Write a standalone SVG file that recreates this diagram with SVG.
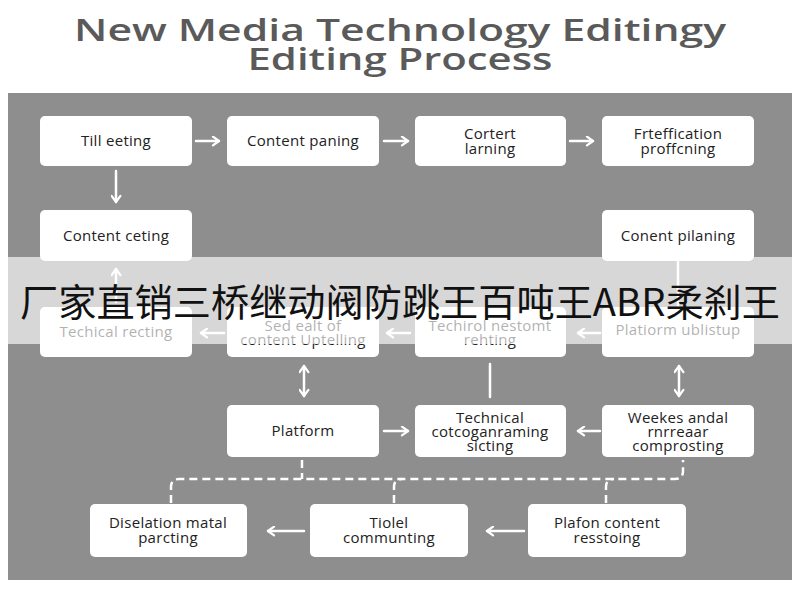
<svg xmlns="http://www.w3.org/2000/svg" width="800" height="600" viewBox="0 0 800 600">
<defs>
<marker id="ah" viewBox="0 0 10 10" refX="8.5" refY="5" markerWidth="11" markerHeight="11" orient="auto-start-reverse" markerUnits="userSpaceOnUse">
<path d="M3 1 L8.5 5 L3 9" fill="none" stroke="#fff" stroke-width="2" stroke-linecap="round" stroke-linejoin="round"/>
</marker>
<style>
.box{fill:#fff;rx:5px;ry:5px}
.t{font-family:"Open Sans","Noto Sans","DejaVu Sans",sans-serif;font-size:15px;fill:#222;text-anchor:middle;letter-spacing:0.3px}
.c{fill:none;stroke:#fff;stroke-width:2.5;stroke-linecap:round}
.a{marker-end:url(#ah)}
.d{marker-start:url(#ah);marker-end:url(#ah)}
.dash{fill:none;stroke:#fff;stroke-width:2.5;stroke-dasharray:8 5}
.title{font-family:"Open Sans","Liberation Sans",sans-serif;font-weight:600;font-size:31px;fill:#5a5a5a;text-anchor:middle}
</style>
</defs>
<rect width="800" height="600" fill="#fff"/>
<text class="title" x="400" y="41" textLength="652" lengthAdjust="spacingAndGlyphs">New Media Technology Editingy</text>
<text class="title" x="400" y="70" textLength="305" lengthAdjust="spacingAndGlyphs">Editing Process</text>
<rect x="8" y="93" width="784" height="487" fill="#8e8e8e"/>

<g id="connectors">
<path class="c a" d="M196 141 H219"/>
<path class="c a" d="M384 141 H408"/>
<path class="c a" d="M570 141 H593"/>
<path class="c a" d="M116 171 V202"/>
<path class="c a" d="M116 302 V269"/>
<path class="c" d="M678 262 V306"/>
<path class="c a" d="M224 333 H201"/>
<path class="c a" d="M410 333 H387"/>
<path class="c a" d="M600 333 H578"/>
<path class="c d" d="M304 366 V396"/>
<path class="c" d="M490 364 V397"/>
<path class="c d" d="M679 366 V396"/>
<path class="c a" d="M384 431 H408"/>
<path class="c a" d="M600 431 H578"/>
<path class="c a" d="M304 531 H268"/>
<path class="c a" d="M524 531 H487"/>
<path class="dash" d="M171 503 V487 Q171 479 179 479 H675 Q683 479 683 471 V460"/>
<path class="dash" d="M302 460 V479"/>
<path class="dash" d="M394 503 V487 Q394 479 402 479"/>
<path class="dash" d="M606 503 V487 Q606 479 614 479"/>
</g>

<g id="n1"><rect class="box" x="40" y="116" width="152" height="50"/><text class="t" x="116" y="146">Till eeting</text></g>
<g id="n2"><rect class="box" x="227" y="116" width="152" height="50"/><text class="t" x="303" y="146">Content paning</text></g>
<g id="n3"><rect class="box" x="415" y="116" width="151" height="50"/><text class="t" x="490" y="139">Cortert</text><text class="t" x="490" y="154">larning</text></g>
<g id="n4"><rect class="box" x="602" y="116" width="152" height="50"/><text class="t" x="678" y="139">Frteffication</text><text class="t" x="678" y="154">proffcning</text></g>
<g id="n5"><rect class="box" x="40" y="210" width="152" height="51"/><text class="t" x="116" y="241">Content ceting</text></g>
<g id="n6"><rect class="box" x="602" y="210" width="152" height="51"/><text class="t" x="678" y="241">Conent pilaning</text></g>
<g id="n7"><rect class="box" x="40" y="307" width="152" height="50"/><text class="t" x="116" y="337">Techical recting</text></g>
<g id="n8"><rect class="box" x="227" y="307" width="152" height="50"/><text class="t" x="303" y="331">Sed ealt of</text><text class="t" x="303" y="345">content Uptelling</text></g>
<g id="n9"><rect class="box" x="415" y="307" width="151" height="50"/><text class="t" x="490" y="331">Techirol nestomt</text><text class="t" x="490" y="345">rehting</text></g>
<g id="n10"><rect class="box" x="602" y="307" width="152" height="50"/><text class="t" x="678" y="335">Platiorm ublistup</text></g>
<g id="n11"><rect class="box" x="227" y="405" width="152" height="52"/><text class="t" x="303" y="436">Platform</text></g>
<g id="n12"><rect class="box" x="415" y="405" width="151" height="52"/><text class="t" x="490" y="423">Technical</text><text class="t" x="490" y="437">cotcoganraming</text><text class="t" x="490" y="451">sicting</text></g>
<g id="n13"><rect class="box" x="602" y="405" width="152" height="52"/><text class="t" x="678" y="423">Weekes andal</text><text class="t" x="678" y="437">rnrreaar</text><text class="t" x="678" y="451">comprosting</text></g>
<g id="n14"><rect class="box" x="90" y="504" width="157" height="53"/><text class="t" x="168" y="528">Diselation matal</text><text class="t" x="168" y="543">parcting</text></g>
<g id="n15"><rect class="box" x="310" y="504" width="158" height="53"/><text class="t" x="389" y="528">Tiolel</text><text class="t" x="389" y="543">communting</text></g>
<g id="n16"><rect class="box" x="528" y="504" width="158" height="53"/><text class="t" x="607" y="528">Plafon content</text><text class="t" x="607" y="543">resstoing</text></g>

<rect x="0" y="257" width="800" height="87" fill="#fff" fill-opacity="0.65"/>
<text x="400" y="316" font-family="'Noto Sans CJK SC',sans-serif" font-size="38" fill="#111" text-anchor="middle" textLength="760" lengthAdjust="spacingAndGlyphs">厂家直销三桥继动阀防跳王百吨王ABR柔刹王</text>
</svg>
